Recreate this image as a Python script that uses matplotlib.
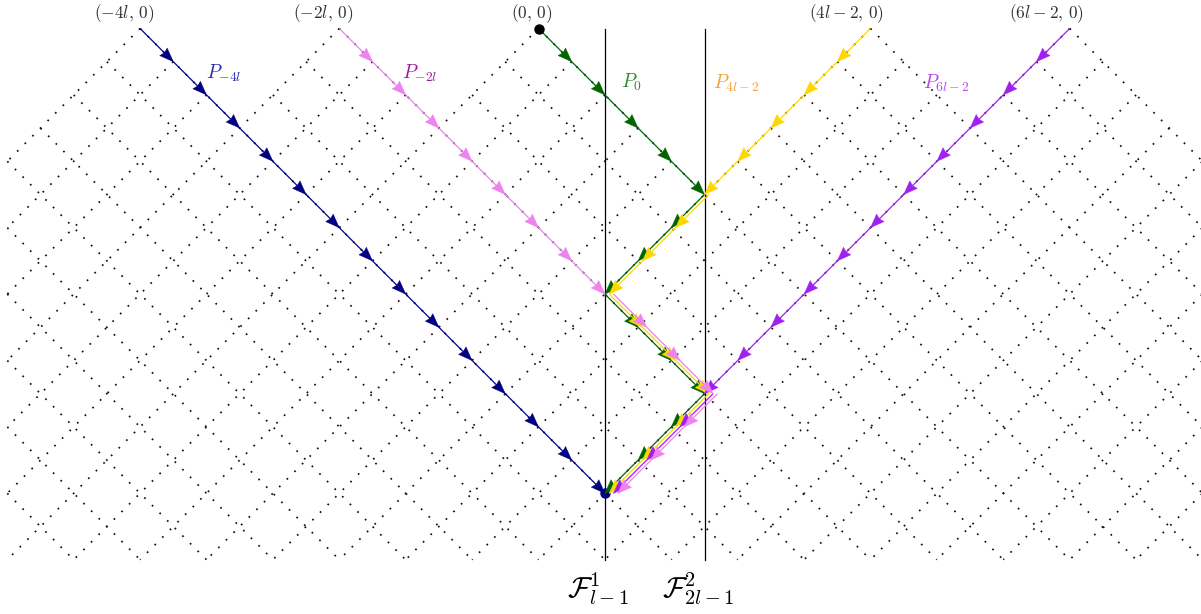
import numpy as np
import matplotlib
matplotlib.use('Agg')
import matplotlib.pyplot as plt
from matplotlib.patches import Polygon

plt.rcParams['mathtext.fontset'] = 'cm'
plt.rcParams['font.family'] = ['DejaVu Serif']

# --- data -------------------------------------------------------------
l = 3
start_x = [-4 * l, -2 * l, 0, 4 * l - 2, 6 * l - 2]
start_labels = [r'$(-4l,\,0)$', r'$(-2l,\,0)$', r'$(0,\,0)$',
                r'$(4l-2,\,0)$', r'$(6l-2,\,0)$']
wall_x = [l - 1, 2 * l - 1]
wall_labels = [r'$\mathcal{F}^1_{l-1}$', r'$\mathcal{F}^2_{2l-1}$']
t_max = 16
x_lo, x_hi = -16, 20

# lattice paths (x, t), t grows downwards
path_m4l = [(-12, 0), (2, 14)]
path_0 = [(0, 0), (5, 5), (2, 8), (5, 11), (2, 14)]
path_4l2 = [(10, 0), (5, 5), (2, 8), (5, 11), (2, 14)]
path_6l2 = [(16, 0), (5, 11), (2, 14)]
path_m2l = [(-6, 0), (2, 8), (5, 11), (2, 14)]

path_names = [r'$P_{-4l}$', r'$P_0$', r'$P_{4l-2}$', r'$P_{6l-2}$', r'$P_{-2l}$']
path_list = [path_m4l, path_0, path_4l2, path_6l2, path_m2l]
line_colors = ['#000080', '#006400', '#ffd700', '#a020f0', '#ee82ee']
text_colors = ['#2c2cb4', '#2e8b2e', '#f7a035', '#b048f0', '#9c1c9c']
# where the path names sit (x, t)
name_pos = [(-10.0, 1.35), (2.48, 1.62), (5.26, 1.65), (11.58, 1.65), (-4.1, 1.35)]

# --- figure -----------------------------------------------------------
U = 33.2          # pixels per lattice unit
X0, Y0 = 538.5, 28.5
fig = plt.figure(figsize=(12.01, 6.14), dpi=100)
ax = fig.add_axes([0, 0, 1, 1])
ax.set_xlim(-X0 / U, (1201 - X0) / U)
ax.set_ylim((614 - Y0) / U, -Y0 / U)
ax.axis('off')

# dotted lattice inside the light cones of the starting points
dot = dict(color='#111111', lw=1.25, ls=(0, (1, 5.2)), zorder=1)
for c in range(-40, 42, 2):
    # lines x - t = c (going down-right)
    cand = [(xi - c) / 2 for xi in start_x if xi >= c]
    if cand:
        ta = max(min(cand), 0, x_lo - c)
        tb = min(t_max, x_hi - c)
        if tb > ta:
            ax.plot([c + ta, c + tb], [ta, tb], **dot)
    # lines x + t = c (going down-left)
    cand = [(c - xi) / 2 for xi in start_x if xi <= c]
    if cand:
        ta = max(min(cand), 0, c - x_hi)
        tb = min(t_max, c - x_lo)
        if tb > ta:
            ax.plot([c - ta, c - tb], [ta, tb], **dot)

# the two walls
for wx, lab in zip(wall_x, wall_labels):
    ax.plot([wx, wx], [0, t_max], color='black', lw=0.9, zorder=2)
    ax.text(wx - 0.2, t_max + 0.87, lab, fontsize=21, ha='center', va='center')

for sx, lab in zip(start_x, start_labels):
    ax.text(sx + 0.42, -0.45, lab, fontsize=12.5, ha='right', va='center',
            color='#333333')


def arrow_head(tip, d, color, z):
    d = np.array(d, dtype=float)
    d /= np.linalg.norm(d)
    n = np.array([-d[1], d[0]])
    L, w = 0.42, 0.16
    base = np.array(tip) - L * d
    tri = [tip, base + w * n, base + 0.1 * L * d, base - w * n]
    ax.add_patch(Polygon(tri, closed=True, facecolor=color, edgecolor=color,
                         lw=0.3, zorder=z))


# paths drawn step by step; shared steps are shifted sideways
used = {}
lane_shift = 0.13
for k, (pts, col) in enumerate(zip(path_list, line_colors)):
    z = 4 + k
    for (xa, ta), (xb, tb) in zip(pts[:-1], pts[1:]):
        sx = 1 if xb > xa else -1
        for s in range(abs(xb - xa)):
            x0, t0 = xa + sx * s, ta + s
            x1, t1 = x0 + sx, t0 + 1
            key = (x0, t0, x1, t1)
            lane = used.get(key, 0)
            used[key] = lane + 1
            off = lane * lane_shift
            ax.plot([x0 + off, x1 + off], [t0, t1], color=col, lw=0.9,
                    solid_capstyle='butt', zorder=z)
            arrow_head((x1 + off, t1), (sx, 1), col, z)

for (nx, nt), name, tc in zip(name_pos, path_names, text_colors):
    ax.text(nx, nt, name, fontsize=14, color=tc, ha='left', va='center')

# start and end dots
ax.plot([path_0[0][0]], [path_0[0][1]], 'o', color='black', ms=6.5, zorder=10)
ax.plot([path_m4l[-1][0]], [path_m4l[-1][1]], 'o', color='#000080', ms=6.5,
        zorder=3)

fig.savefig('out.png', dpi=100)
